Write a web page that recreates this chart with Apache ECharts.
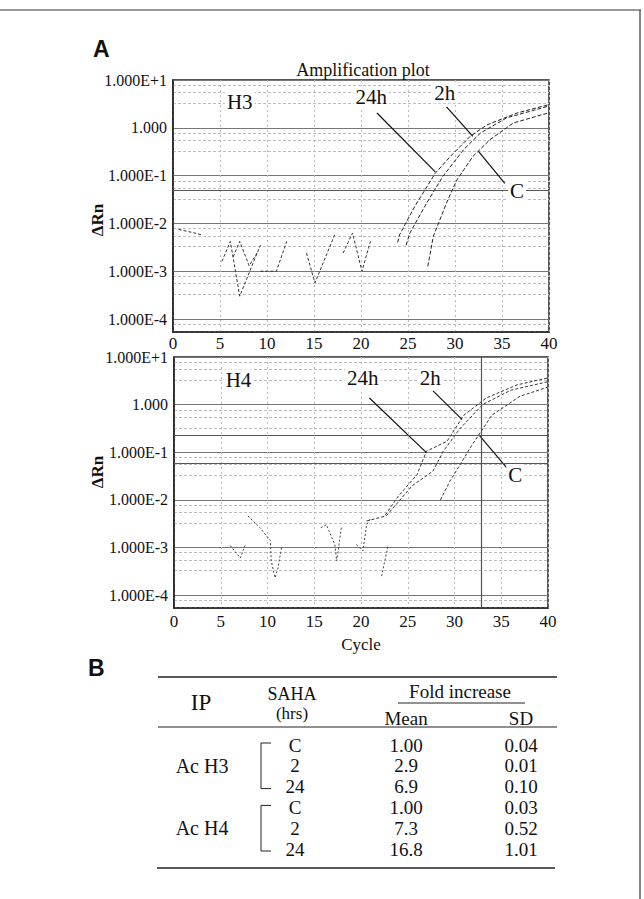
<!DOCTYPE html>
<html><head><meta charset="utf-8">
<script src="https://cdn.jsdelivr.net/npm/echarts@6/dist/echarts.min.js"></script>
<style>html,body{margin:0;padding:0;background:#fff}#c{width:644px;height:899px}</style>
</head><body><div id="c"></div>
<script>
// ---------- DATA ----------
const yTickLabels = {'-4':'1.000E-4','-3':'1.000E-3','-2':'1.000E-2','-1':'1.000E-1','0':'1.000','1':'1.000E+1'};
const panelNames = ['H3','H4'];
const curveNames = ['24h','2h','C'];

// H3 panel (cycle, ΔRn)
const h3Noise = [
  [[0.6,7.5e-3],[2.0,6.5e-3],[3.0,5.8e-3]],
  [[5.2,1.6e-3],[6.1,4.2e-3],[7.1,3.0e-4],[8.4,1.3e-3],[9.3,3.5e-3]],
  [[6.4,2.0e-3],[7.1,4.2e-3],[8.1,1.3e-3],[9.0,2.5e-3]],
  [[9.3,1.0e-3],[11.0,1.0e-3],[12.1,4.2e-3]],
  [[14.2,2.4e-3],[15.1,5.7e-4],[17.2,5.8e-3]],
  [[18.1,2.4e-3],[19.1,6.3e-3],[20.1,1.0e-3],[21.0,4.2e-3]]
];
const h3_24h = [[23.9,4.0e-3],[24.1,5.75e-3],[25.7,0.0224],[27.9,0.112],[29.5,0.251],[31.6,0.66],[33.4,1.15],[36.6,2.04],[39.9,3.02]];
const h3_2h  = [[24.8,3.5e-3],[25.2,6.3e-3],[27.0,0.0269],[28.7,0.0955],[30.9,0.347],[32.7,0.776],[35.5,1.62],[39.9,2.82]];
const h3_C   = [[27.1,1.26e-3],[27.7,5.4e-3],[29.1,0.0269],[30.2,0.081],[31.9,0.251],[33.7,0.562],[36.2,1.26],[39.9,2.04]];

// H4 panel
const h4Noise = [
  [[6.0,1.1e-3],[7.1,6.0e-4],[7.6,1.1e-3]],
  [[7.9,4.6e-3],[9.2,2.6e-3],[10.3,1.4e-3],[10.4,5.2e-4],[10.8,2.3e-4],[11.1,3.5e-4],[11.5,1.0e-3]],
  [[15.7,2.6e-3],[16.3,3.0e-3],[17.2,1.15e-3],[17.4,5.2e-4],[17.9,2.6e-3]],
  [[19.5,1.15e-3],[20.2,8.5e-4],[20.6,3.0e-3],[21.0,4.0e-3]],
  [[22.2,2.5e-4],[22.9,1.1e-3]]
];
const h4_24h = [[20.6,3.6e-3],[22.5,4.5e-3],[24.0,0.012],[26.0,0.034],[27.0,0.105],[29.2,0.17],[31.0,0.6],[33.4,1.38],[36.7,2.6],[39.9,3.6]];
const h4_2h  = [[22.7,4.6e-3],[25.5,0.02],[27.7,0.04],[28.8,0.105],[30.5,0.3],[33.0,1.0],[36.0,2.0],[39.9,3.0]];
const h4_C   = [[28.5,0.01],[29.5,0.0245],[30.6,0.055],[31.8,0.135],[34.0,0.6],[37.0,1.5],[39.9,2.3]];

// annotation label positions and leader lines (data coords)
const h3Labels = [['H3',7.1,3.5],['24h',21.1,4.5],['2h',28.9,5.4],['C',36.6,0.047]];
const h3Leaders = [[[21.7,2.04],[27.9,0.12]],[[29.1,2.75],[31.9,0.66]],[[35.3,0.069],[32.5,0.32]]];
const h4Labels = [['H4',6.9,3.3],['24h',20.2,3.6],['2h',27.4,3.6],['C',36.5,0.034]];
const h4Leaders = [[[20.9,1.38],[27.0,0.098]],[[27.7,1.95],[30.8,0.49]],[[32.7,0.22],[35.6,0.047]]];
const h3Thresholds = [0.05];
const h4Thresholds = [0.235, 0.055];
const h4VLines = [32.9];

// Table B
const tableIP = ['Ac H3','Ac H4'];
const tableSAHA = ['C','2','24','C','2','24'];
const tableMean = ['1.00','2.9','6.9','1.00','7.3','16.8'];
const tableSD = ['0.04','0.01','0.10','0.03','0.52','1.01'];

// ---------- CHART ----------
const SERIF = 'Liberation Serif, Times New Roman, serif';
const chart = echarts.init(document.getElementById('c'), null, {renderer:'svg'});

function yFmt(v){ const e = Math.round(Math.log10(v)); return yTickLabels[String(e)] || ''; }

function xAxis(gi, margin, name){
  return {type:'value', gridIndex:gi, min:0, max:40, interval:5,
    name: name || '', nameLocation:'middle', nameGap:28,
    nameTextStyle:{fontFamily:SERIF, fontSize:17, color:'#111'},
    axisLine:{show:true, onZero:false, lineStyle:{color:'#222', width:1.5}},
    axisTick:{show:false},
    axisLabel:{fontFamily:SERIF, fontSize:17, color:'#111', margin:margin},
    splitLine:{show:true, lineStyle:{color:'#bbb', type:[2,3], width:1}}};
}
function yAxis(gi){
  return {type:'log', logBase:10, gridIndex:gi, min:5.35e-5, max:10,
    axisLine:{show:true, lineStyle:{color:'#222', width:1.5}},
    axisTick:{show:false},
    axisLabel:{fontFamily:SERIF, fontSize:16, color:'#111', margin:6, formatter:yFmt, showMinLabel:false},
    splitLine:{show:true, lineStyle:{color:'#777', width:1}},
    minorTick:{show:false, splitNumber:4},
    minorSplitLine:{show:true, lineStyle:{color:'#bdbdbd', type:[3,2], width:1}}};
}
function line(data, gi, color, dash){
  return {type:'line', xAxisIndex:gi, yAxisIndex:gi, data:data, symbol:'none', silent:true,
    lineStyle:{color:color, width:1, type:dash}, z:3};
}
function annot(gi, labels, leaders, hLines, vLines){
  const md = [];
  leaders.forEach(l => md.push([{coord:l[0]},{coord:l[1]}]));
  hLines.forEach(v => md.push({yAxis:v, lineStyle:{color:'#555', width:1.2, type:'solid'}}));
  (vLines||[]).forEach(v => md.push({xAxis:v, lineStyle:{color:'#555', width:1.2, type:'solid'}}));
  return {type:'line', xAxisIndex:gi, yAxisIndex:gi, data:[], silent:true, z:5,
    markLine:{silent:true, symbol:['none','none'], animation:false, label:{show:false},
      lineStyle:{color:'#111', width:1.2, type:'solid'}, data:md},
    markPoint:{silent:true, symbol:'rect', symbolSize:0, animation:false,
      label:{show:true, position:'inside', fontFamily:SERIF, fontSize:21, color:'#111',
        backgroundColor:'#fff', padding:[0,2]},
      data: labels.map(l => ({coord:[l[1],l[2]], value:l[0], label:{formatter:l[0]}}))}};
}

const series = [];
h3Noise.forEach(s => series.push(line(s,0,'#333',[3,2])));
[h3_24h,h3_2h,h3_C].forEach(s => series.push(line(s,0,'#222',[4,2])));
series.push(annot(0,h3Labels,h3Leaders,h3Thresholds,[]));
h4Noise.forEach(s => series.push(line(s,1,'#444',[2,2])));
[h4_24h,h4_2h,h4_C].forEach(s => series.push(line(s,1,'#333',[3,2])));
series.push(annot(1,h4Labels,h4Leaders,h4Thresholds,h4VLines));

// table graphics
const TS = 19;
const g = [];
const txt = (t,x,y,size,extra) => g.push(Object.assign({type:'text', x:x, y:y, silent:true,
  style:{text:t, x:0, y:0, fontFamily:SERIF, fontSize:size||TS, fill:'#111', align:'center', verticalAlign:'middle'}}, extra||{}));
const ln = (x1,y1,x2,y2,w,c) => g.push({type:'line', silent:true, shape:{x1,y1,x2,y2}, style:{stroke:c||'#222', lineWidth:w||1}});

// frame
ln(0,10,641,10,1.2,'#333'); ln(640,10,640,899,1.2,'#333');
// panel letters
g.push({type:'text', x:93, y:37, silent:true, style:{text:'A', fontFamily:'Liberation Sans, Arial, sans-serif', fontWeight:'bold', fontSize:23, fill:'#111'}});
g.push({type:'text', x:88, y:656, silent:true, style:{text:'B', fontFamily:'Liberation Sans, Arial, sans-serif', fontWeight:'bold', fontSize:23, fill:'#111'}});
// y axis names
[220,472].forEach(y => g.push({type:'text', x:97, y:y, rotation:Math.PI/2, silent:true,
  style:{text:'ΔRn', fontFamily:SERIF, fontWeight:'bold', fontSize:17, fill:'#111', align:'center', verticalAlign:'middle'}}));

// table B
ln(158,677,557,677,1.5); ln(158,727,557,727,1.2); ln(157,868,555,868,1.5);
ln(398,703,525,703,1);
txt('IP',201,702,23);
txt('SAHA',292,694,18); txt('(hrs)',292,713,17);
txt('Fold increase',460,691);
txt('Mean',406,718); txt('SD',521,718);
const rowY = tableSAHA.map((_,i)=>745 + i*20.8);
tableSAHA.forEach((t,i)=>{ txt(t,295,rowY[i]); txt(tableMean[i],406,rowY[i]); txt(tableSD[i],521,rowY[i]); });
tableIP.forEach((t,k)=>{
  txt(t,202,rowY[k*3+1],20);
  const y1 = rowY[k*3]-2, y2 = rowY[k*3+2]+2;
  g.push({type:'polyline', silent:true, shape:{points:[[271,y1],[261,y1],[261,y2],[271,y2]]}, style:{stroke:'#222', lineWidth:1, fill:null}});
});

chart.setOption({
  animation:false,
  backgroundColor:'#fff',
  title:{text:'Amplification plot', left:358, top:56, textAlign:'center',
    textStyle:{fontFamily:SERIF, fontSize:18, fontWeight:'normal', color:'#111'}},
  grid:[
    {left:173, width:376, top:80, height:252, show:true, borderColor:'#222', borderWidth:1.5, containLabel:false},
    {left:174, width:374, top:357, height:251, show:true, borderColor:'#222', borderWidth:1.5, containLabel:false}
  ],
  xAxis:[xAxis(0,3), xAxis(1,5,'Cycle')],
  yAxis:[yAxis(0), yAxis(1)],
  series:series,
  graphic:g
});
</script></body></html>
